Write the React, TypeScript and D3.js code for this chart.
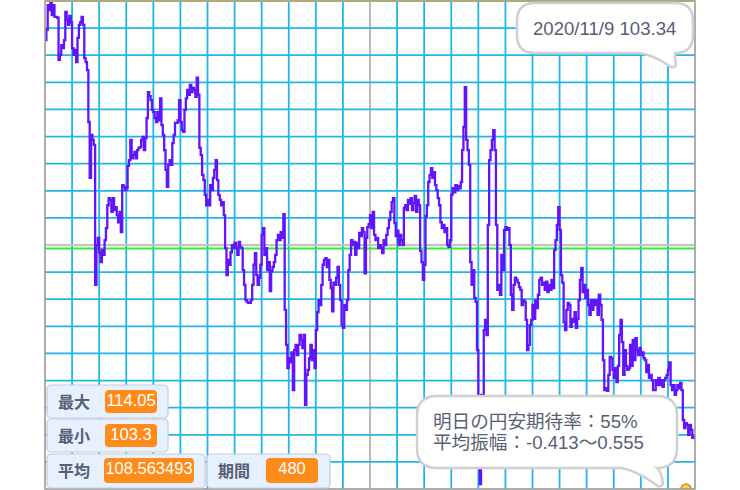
import React, { useEffect, useRef } from 'react';
import * as d3 from 'd3';

const W = 740;
const H = 490;

// daily closes, 480 periods
const prices: number[] = [
  113.22, 113.45, 114.00, 113.89, 114.05, 113.78, 114.00, 113.74, 113.74, 113.72,
  112.78, 112.89, 113.11, 113.04, 113.22, 113.85, 113.67, 113.56, 113.76, 113.62,
  113.04, 112.89, 113.00, 112.73, 113.27, 113.56, 113.62, 113.74, 113.56, 112.82,
  112.73, 112.55, 111.39, 110.14, 111.10, 110.99, 110.88, 107.75, 108.64, 108.80,
  108.48, 108.26, 108.53, 108.42, 108.75, 109.02, 109.53, 109.69, 109.65, 109.38,
  109.69, 109.42, 109.49, 109.31, 109.15, 109.38, 108.93, 109.98, 109.94, 109.87,
  109.91, 110.41, 110.54, 110.99, 110.58, 110.65, 110.72, 110.58, 110.76, 110.81,
  110.83, 110.99, 111.06, 110.76, 111.03, 111.48, 112.06, 111.97, 111.88, 111.66,
  111.61, 111.48, 111.39, 111.61, 111.43, 111.92, 111.32, 111.10, 110.76, 110.32,
  109.94, 110.43, 110.54, 110.43, 110.92, 111.10, 111.37, 111.37, 111.43, 111.88,
  111.39, 111.21, 111.17, 111.66, 111.92, 112.11, 112.00, 112.22, 112.06, 112.15,
  112.11, 111.95, 112.38, 112.00, 110.81, 110.65, 110.21, 110.09, 109.76, 109.53,
  109.65, 109.53, 109.98, 109.87, 110.14, 110.32, 110.54, 110.09, 109.76, 109.65,
  109.53, 109.60, 109.31, 108.57, 107.97, 108.31, 108.20, 108.48, 108.64, 108.57,
  108.69, 108.57, 108.42, 108.71, 108.60, 108.57, 108.08, 107.75, 107.41, 107.37,
  107.35, 107.35, 107.41, 107.75, 108.20, 108.46, 107.97, 107.75, 107.91, 108.20,
  108.87, 109.02, 108.42, 108.57, 108.08, 108.26, 107.61, 108.06, 108.15, 108.26,
  108.42, 108.75, 108.87, 108.75, 108.93, 108.80, 109.33, 107.19, 106.41, 105.89,
  106.11, 106.02, 106.24, 105.40, 106.29, 106.41, 106.18, 106.41, 106.63, 106.52,
  106.34, 106.63, 105.07, 105.74, 105.85, 106.11, 106.41, 106.07, 106.29, 105.89,
  106.74, 107.14, 107.41, 107.30, 107.75, 108.20, 108.31, 108.35, 108.15, 108.31,
  107.86, 107.68, 107.16, 107.80, 107.75, 107.91, 108.15, 107.75, 107.41, 106.85,
  106.79, 107.30, 107.19, 107.41, 108.08, 108.42, 108.75, 108.64, 108.71, 108.42,
  108.69, 108.57, 108.91, 108.84, 109.02, 108.93, 108.01, 108.80, 109.04, 109.11,
  109.31, 109.02, 109.38, 108.87, 108.75, 108.80, 108.57, 108.64, 108.57, 108.46,
  108.75, 108.64, 108.87, 109.02, 109.20, 109.38, 109.60, 109.69, 109.13, 108.84,
  108.96, 108.64, 108.87, 108.75, 108.64, 109.47, 109.53, 109.42, 109.65, 109.56,
  109.69, 109.42, 109.58, 109.74, 109.38, 109.65, 109.53, 108.51, 108.26, 107.86,
  108.20, 109.29, 109.53, 110.05, 110.21, 110.36, 110.14, 110.27, 109.98, 109.87,
  109.69, 109.53, 109.15, 109.02, 109.09, 108.93, 109.02, 108.64, 108.60, 108.75,
  109.76, 109.91, 109.82, 109.98, 109.87, 109.96, 109.91, 110.05, 110.76, 111.28,
  112.17, 110.99, 110.76, 110.43, 108.26, 107.75, 108.08, 107.46, 107.37, 106.29,
  105.18, 103.30, 105.29, 105.23, 106.74, 106.97, 106.63, 109.09, 110.54, 110.76,
  110.99, 111.21, 110.76, 109.09, 107.64, 107.75, 107.53, 108.42, 108.08, 108.98,
  109.04, 108.98, 109.02, 108.64, 107.53, 107.19, 107.75, 107.91, 107.86, 107.80,
  107.70, 107.64, 107.30, 107.41, 107.37, 106.97, 106.29, 106.41, 106.85, 106.97,
  107.30, 106.99, 107.41, 107.23, 107.53, 107.86, 107.91, 107.75, 107.80, 107.64,
  107.82, 107.59, 107.75, 107.64, 107.86, 107.68, 108.53, 108.75, 109.09, 109.49,
  108.98, 107.97, 107.80, 106.92, 106.74, 107.19, 107.35, 107.30, 106.81, 106.99,
  106.92, 107.14, 106.79, 106.99, 107.41, 107.86, 108.13, 107.59, 107.75, 107.46,
  107.64, 107.30, 107.08, 107.41, 107.19, 107.41, 107.30, 107.41, 107.08, 107.53,
  107.30, 106.97, 106.07, 105.40, 105.44, 105.38, 105.74, 106.14, 106.11, 105.85,
  105.67, 105.89, 105.58, 105.94, 106.63, 106.97, 106.47, 105.74, 106.29, 105.94,
  105.85, 105.89, 106.41, 105.94, 106.52, 106.07, 106.56, 106.29, 106.18, 106.34,
  106.18, 106.24, 106.11, 106.07, 105.80, 105.96, 105.67, 105.74, 105.62, 105.40,
  105.40, 105.62, 105.51, 105.67, 105.51, 105.62, 105.47, 105.62, 105.67, 105.74,
  105.85, 106.02, 105.51, 105.40, 105.51, 105.29, 105.40, 105.51, 105.44, 105.56,
  105.40, 104.73, 104.55, 104.66, 104.62, 104.40, 104.62, 104.51, 104.33, 104.40,
];

const maxPrice = 114.05;
const minPrice = 103.3;
const avgPrice = 108.563493;

const monitorLabels = ['最大', '最小', '平均', '期間'];
const monitorValues = ['114.05', '103.3', '108.563493', '480'];

const lastQuote = '2020/11/9 103.34';
const forecastLines = ['明日の円安期待率：55%', '平均振幅：-0.413〜0.555'];

const FONT = "'Liberation Sans', Arial, 'Noto Sans CJK JP', sans-serif";
const TEXT_COLOR = '#575e75';

// speech bubble outline with a small tail hanging off the bottom right
function bubblePath(x0: number, y0: number, x1: number, y1: number, r: number, tipX: number, tipY: number) {
  const p = d3.path();
  p.moveTo(x0 + r, y0);
  p.lineTo(x1 - r, y0);
  p.quadraticCurveTo(x1, y0, x1, y0 + r);
  p.lineTo(x1, y1 - r);
  p.quadraticCurveTo(x1, y1, x1 - r, y1);
  p.quadraticCurveTo(tipX + 2, y1 + 4, tipX + 3, tipY - 3);
  p.quadraticCurveTo(tipX, tipY + 2, tipX - 5, tipY - 3);
  p.quadraticCurveTo(x1 - r - 22, y1 + 2, x1 - r - 36, y1);
  p.lineTo(x0 + r, y1);
  p.quadraticCurveTo(x0, y1, x0, y1 - r);
  p.lineTo(x0, y0 + r);
  p.quadraticCurveTo(x0, y0, x0 + r, y0);
  p.closePath();
  return p.toString();
}

export default function App() {
  const ref = useRef<SVGSVGElement>(null);

  useEffect(() => {
    const svg = d3.select(ref.current);
    svg.selectAll('*').remove();

    // Scratch stage coords -> page pixels
    const sx = d3.scaleLinear().domain([-240, 240]).range([45, 695]);
    const sy = d3.scaleLinear().domain([180, -180]).range([1, 489]);
    const py = d3.scaleLinear().domain([minPrice, maxPrice]).range([484, 3]);

    svg.append('rect').attr('width', W).attr('height', H).attr('fill', '#ffffff');

    svg.append('defs').append('clipPath').attr('id', 'stage')
      .append('rect')
      .attr('x', sx(-240)).attr('y', sy(180))
      .attr('width', sx(240) - sx(-240)).attr('height', sy(-180) - sy(180));

    const stage = svg.append('g').attr('clip-path', 'url(#stage)');

    // grid
    stage.selectAll('.vgrid')
      .data(d3.range(-220, 240, 20))
      .enter().append('line')
      .attr('x1', (d: number) => sx(d)).attr('x2', (d: number) => sx(d))
      .attr('y1', sy(180)).attr('y2', sy(-180))
      .attr('stroke', (d: number) => d === 0 ? '#b4b4b4' : '#22b5e8')
      .attr('stroke-width', 1.8);

    stage.selectAll('.hgrid')
      .data(d3.range(-160, 180, 20))
      .enter().append('line')
      .attr('y1', (d: number) => sy(d)).attr('y2', (d: number) => sy(d))
      .attr('x1', sx(-240)).attr('x2', sx(240))
      .attr('stroke', (d: number) => d === 0 ? '#c4c4c4' : '#22b5e8')
      .attr('stroke-width', 1.8);

    // average line
    stage.append('line')
      .attr('x1', sx(-240)).attr('x2', sx(240))
      .attr('y1', py(avgPrice)).attr('y2', py(avgPrice))
      .attr('stroke', '#2ef22e')
      .attr('stroke-width', 2);

    // price trace, drawn pen-style as steps
    const line = d3.line<number>()
      .x((_d, i) => sx(-240 + i))
      .y(d => py(d))
      .curve(d3.curveStepAfter);

    stage.append('path')
      .attr('d', line(prices))
      .attr('fill', 'none')
      .attr('stroke', '#6214ff')
      .attr('stroke-width', 2.3)
      .attr('stroke-linejoin', 'miter');

    // little sprite peeking at the corner
    stage.append('circle')
      .attr('cx', 686).attr('cy', 489).attr('r', 5)
      .attr('fill', '#ffd24d').attr('stroke', '#c89400').attr('stroke-width', 1.5);

    // stage border
    svg.append('rect')
      .attr('x', sx(-240)).attr('y', sy(180))
      .attr('width', sx(240) - sx(-240)).attr('height', sy(-180) - sy(180))
      .attr('fill', 'none').attr('stroke', '#9a9a9a').attr('stroke-width', 1.6);
    svg.append('line')
      .attr('x1', sx(-240)).attr('x2', sx(240)).attr('y1', 1).attr('y2', 1)
      .attr('stroke', '#b0a97e').attr('stroke-width', 2);

    // variable monitors
    const monitors = [
      { box: [47, 385, 121, 33], val: [105, 390, 52, 23] },
      { box: [47, 419, 121, 33], val: [105, 424, 52, 23] },
      { box: [47, 454, 158, 34], val: [104, 458, 90, 25] },
      { box: [207, 454, 123, 34], val: [266, 458, 52, 25] },
    ];

    const mon = svg.selectAll('.monitor')
      .data(monitors)
      .enter().append('g')
      .attr('class', 'monitor');

    mon.append('rect')
      .attr('x', d => d.box[0]).attr('y', d => d.box[1])
      .attr('width', d => d.box[2]).attr('height', d => d.box[3])
      .attr('rx', 4)
      .attr('fill', '#e6f0ff').attr('stroke', '#c3ccd9').attr('stroke-width', 1.2);

    mon.append('text')
      .attr('x', d => d.box[0] + 11)
      .attr('y', d => d.box[1] + d.box[3] / 2 + 6)
      .attr('font-family', FONT).attr('font-weight', 'bold')
      .attr('font-size', 16).attr('fill', TEXT_COLOR)
      .text((_d, i) => monitorLabels[i]);

    mon.append('rect')
      .attr('x', d => d.val[0]).attr('y', d => d.val[1])
      .attr('width', d => d.val[2]).attr('height', d => d.val[3])
      .attr('rx', 4).attr('fill', '#ff8c1a');

    mon.append('text')
      .attr('x', d => d.val[0] + d.val[2] / 2)
      .attr('y', d => d.val[1] + 15.5)
      .attr('text-anchor', 'middle')
      .attr('font-family', FONT).attr('font-size', 16.5).attr('fill', '#ffffff')
      .text((_d, i) => monitorValues[i]);

    // speech bubbles
    svg.append('path')
      .attr('d', bubblePath(517, 3, 693, 53, 18, 673, 68))
      .attr('fill', '#ffffff').attr('stroke', '#d0d0d0').attr('stroke-width', 2.5);
    svg.append('text')
      .attr('x', 533).attr('y', 35)
      .attr('font-family', FONT).attr('font-size', 18.6).attr('fill', TEXT_COLOR)
      .text(lastQuote);

    svg.append('path')
      .attr('d', bubblePath(417, 396, 677, 468, 20, 660, 487))
      .attr('fill', '#ffffff').attr('stroke', '#d0d0d0').attr('stroke-width', 2.5);
    svg.selectAll('.forecast')
      .data(forecastLines)
      .enter().append('text')
      .attr('x', 433)
      .attr('y', (_d, i) => 428 + i * 20.5)
      .attr('font-family', FONT).attr('font-size', 18.6).attr('fill', TEXT_COLOR)
      .text(d => d);
  }, []);

  return (
    <svg
      ref={ref}
      width={W}
      height={H}
      style={{ position: 'absolute', left: 0, top: 0 }}
    />
  );
}
